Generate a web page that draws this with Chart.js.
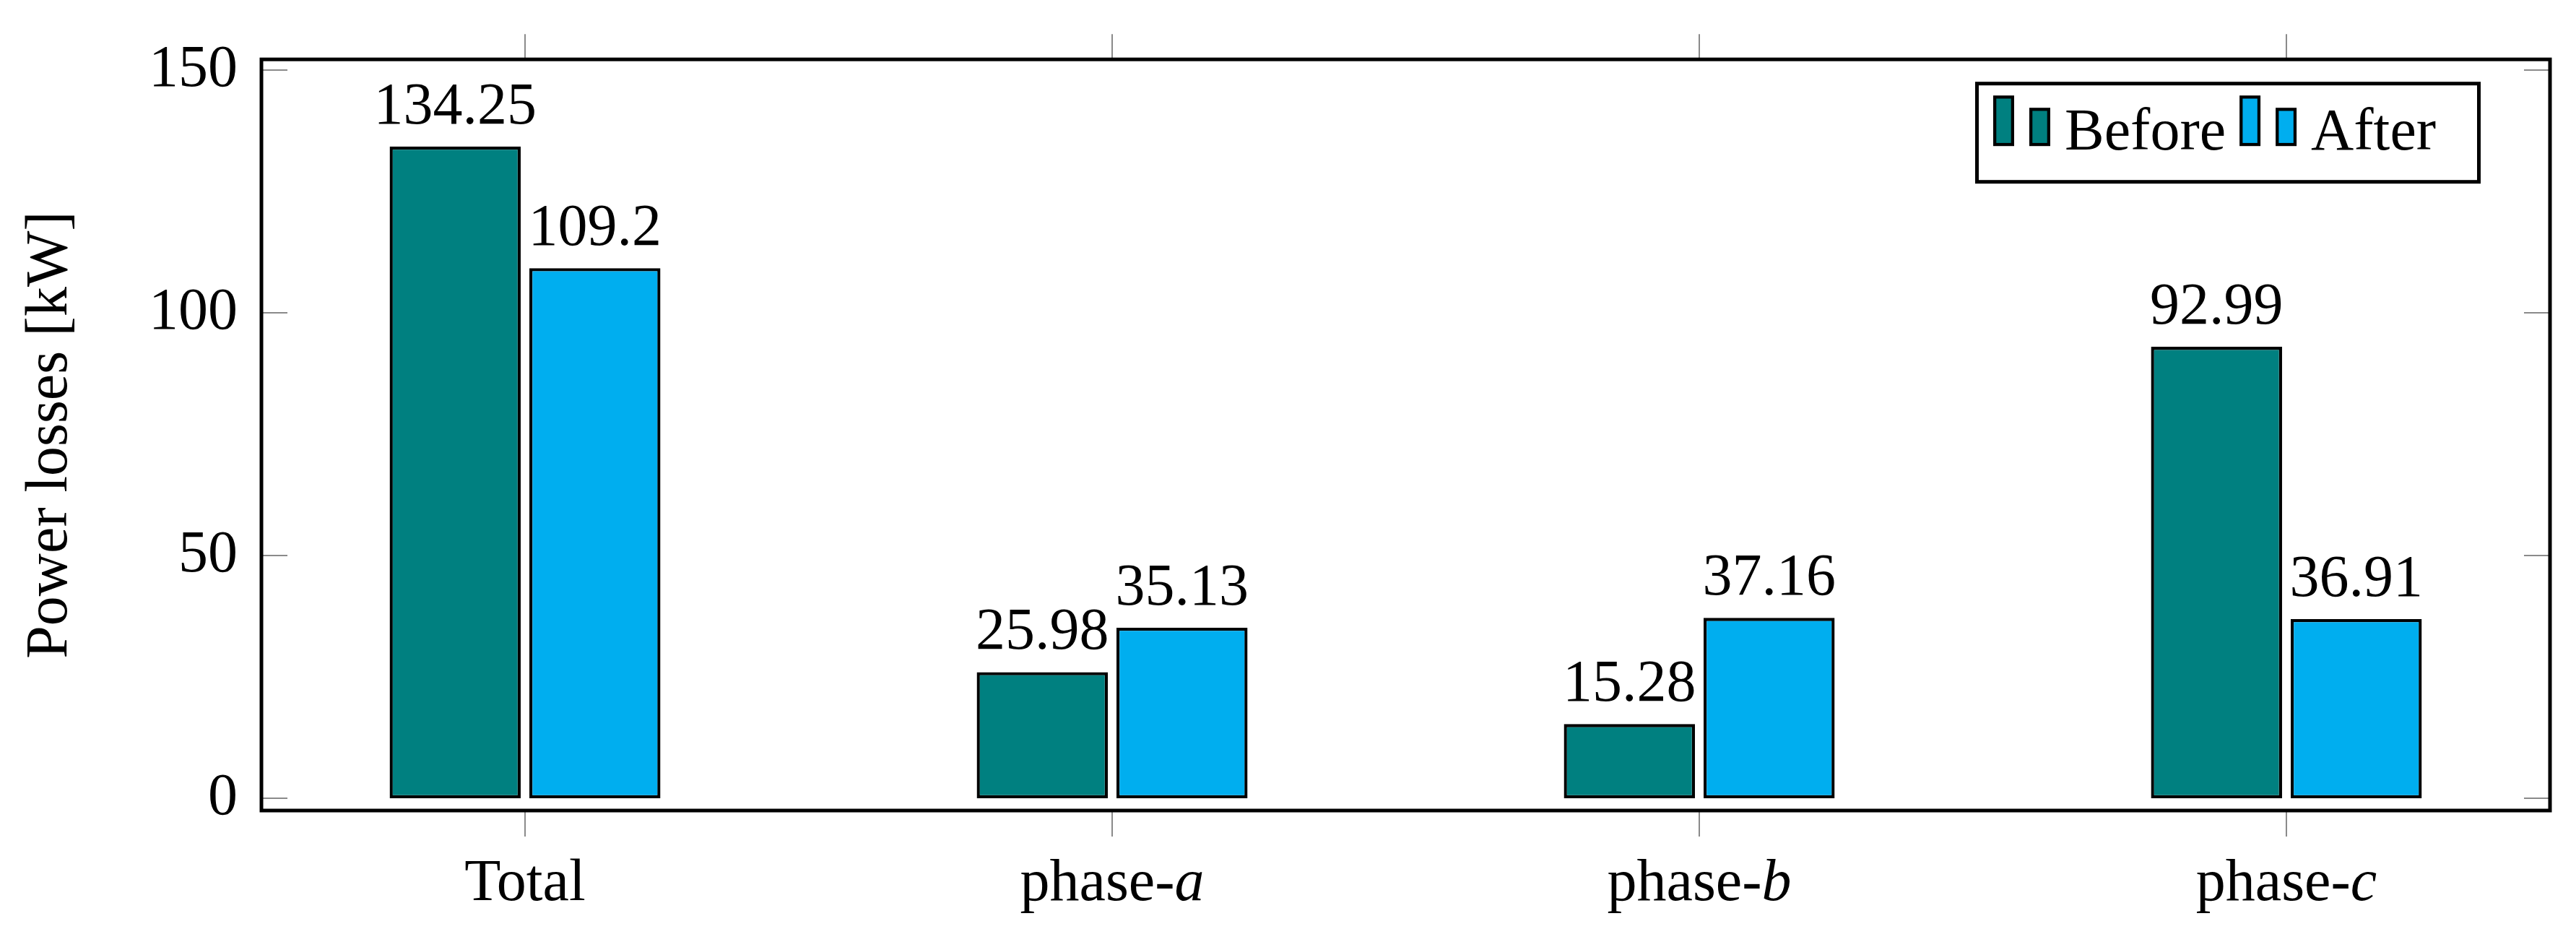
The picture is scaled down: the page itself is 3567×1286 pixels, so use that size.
<!DOCTYPE html>
<html>
<head>
<meta charset="utf-8">
<script src="https://cdn.jsdelivr.net/npm/chart.js@4.4.1/dist/chart.umd.min.js"></script>
<style>
  html, body { margin: 0; padding: 0; background: #fff; }
  #wrap { width: 3567px; height: 1286px; }
</style>
</head>
<body>
<div id="wrap"><canvas id="chart"></canvas></div>
<script>
const categories = ['Total', 'phase-a', 'phase-b', 'phase-c'];
const lossesBefore = [134.25, 25.98, 15.28, 92.99];
const lossesAfter = [109.2, 35.13, 37.16, 36.91];
const yTicks = [0, 50, 100, 150];
const seriesNames = ['Before', 'After'];
const seriesColors = ['#008080', '#00AEEF'];

const FONT = "'Liberation Serif', 'Times New Roman', serif";
const FS = 82;
const tickGrey = '#8a8a8a';

// pgfplots-like frame and tick marks
const framePlugin = {
    id: 'frame',
    afterDraw(chart) {
        const { ctx, chartArea: a, scales } = chart;
        ctx.save();
        ctx.strokeStyle = tickGrey;
        ctx.lineWidth = 2;
        ctx.beginPath();
        scales.x.ticks.forEach(t => {
            const px = scales.x.getPixelForValue(t.value);
            ctx.moveTo(px, a.top); ctx.lineTo(px, a.top - 35);
            ctx.moveTo(px, a.bottom); ctx.lineTo(px, a.bottom + 36);
        });
        scales.y.ticks.forEach(t => {
            const py = scales.y.getPixelForValue(t.value);
            ctx.moveTo(a.left, py); ctx.lineTo(a.left + 36, py);
            ctx.moveTo(a.right, py); ctx.lineTo(a.right - 36, py);
        });
        ctx.stroke();
        ctx.strokeStyle = '#000';
        ctx.lineWidth = 5;
        ctx.strokeRect(a.left, a.top, a.right - a.left, a.bottom - a.top);
        ctx.restore();
    }
};

// value above each bar
const valueLabels = {
    id: 'valueLabels',
    afterDatasetsDraw(chart) {
        const ctx = chart.ctx;
        ctx.save();
        ctx.font = `${FS}px ${FONT}`;
        ctx.fillStyle = '#000';
        ctx.textAlign = 'center';
        ctx.textBaseline = 'alphabetic';
        chart.data.datasets.forEach((ds, i) => {
            chart.getDatasetMeta(i).data.forEach((bar, j) => {
                ctx.fillText(String(ds.data[j].y), bar.x, bar.y - 32);
            });
        });
        ctx.restore();
    }
};

// category names, last letter in italic (phase-a ...)
const categoryLabels = {
    id: 'categoryLabels',
    afterDraw(chart) {
        const { ctx, scales: { x }, chartArea: a } = chart;
        const up = `${FS}px ${FONT}`;
        const it = `italic ${FS}px ${FONT}`;
        ctx.save();
        ctx.fillStyle = '#000';
        ctx.textBaseline = 'alphabetic';
        ctx.textAlign = 'left';
        categories.forEach((lab, i) => {
            const m = lab.match(/^(.*-)(\w)$/);
            const parts = m ? [[m[1], up], [m[2], it]] : [[lab, up]];
            let w = 0;
            parts.forEach(p => { ctx.font = p[1]; w += ctx.measureText(p[0]).width; });
            let px = x.getPixelForValue(i) - w / 2;
            parts.forEach(p => {
                ctx.font = p[1];
                ctx.fillText(p[0], px, a.bottom + 124);
                px += ctx.measureText(p[0]).width;
            });
        });
        ctx.restore();
    }
};

// ybar legend: two small bars + text per series
const barLegend = {
    id: 'barLegend',
    afterDraw(chart) {
        const { ctx, chartArea: a } = chart;
        ctx.save();
        ctx.font = `${FS}px ${FONT}`;
        const items = chart.data.datasets.map(ds => ({
            text: ds.label, color: ds.backgroundColor, w: ctx.measureText(ds.label).width
        }));
        const boxW = 700;
        const boxH = 141;
        const right = a.right - 96;
        const top = a.top + 31;
        const left = right - boxW;
        ctx.fillStyle = '#fff';
        ctx.fillRect(left, top, boxW, boxH);
        ctx.lineWidth = 5;
        ctx.strokeStyle = '#000';
        ctx.strokeRect(left + 2.5, top + 2.5, boxW - 5, boxH - 5);
        ctx.lineWidth = 4.3;
        const drawBar = (x0, y0, w, h, color) => {
            const i = 2.15;
            ctx.fillStyle = color;
            ctx.fillRect(x0 + i, y0 + i, w - 2 * i, h - 2 * i);
            ctx.strokeRect(x0 + i, y0 + i, w - 2 * i, h - 2 * i);
        };
        let cx = left + 25;
        items.forEach((it, k) => {
            if (k) cx += 19;
            drawBar(cx, top + 19, 29, 70, it.color);
            drawBar(cx + 50, top + 36, 29, 53, it.color);
            cx += 79 + 20;
            ctx.fillStyle = '#000';
            ctx.textBaseline = 'alphabetic';
            ctx.textAlign = 'left';
            ctx.fillText(it.text, cx, top + 94);
            cx += it.w;
        });
        ctx.restore();
    }
};

const seriesValues = [lossesBefore, lossesAfter];

new Chart(document.getElementById('chart'), {
    type: 'bar',
    data: {
        datasets: seriesValues.map((vals, k) => ({
            label: seriesNames[k],
            data: vals.map((v, i) => ({ x: i, y: v })),
            backgroundColor: seriesColors[k],
            borderColor: '#000',
            borderWidth: 4.3,
            borderSkipped: false,
            categoryPercentage: 0.476,
            barPercentage: 0.938
        }))
    },
    options: {
        responsive: true,
        maintainAspectRatio: false,
        animation: false,
        layout: { padding: { left: 0, top: 78, right: 36, bottom: 0 } },
        plugins: {
            legend: { display: false },
            tooltip: { enabled: false }
        },
        scales: {
            x: {
                type: 'linear',
                min: -0.449,
                max: 3.449,
                offset: false,
                afterBuildTicks: s => { s.ticks = categories.map((c, i) => ({ value: i })); },
                afterFit: s => { s.height = 164; },
                ticks: { display: false },
                grid: { display: false, drawTicks: false },
                border: { display: false }
            },
            y: {
                min: -2.52,
                max: 152.2,
                afterBuildTicks: s => { s.ticks = yTicks.map(v => ({ value: v })); },
                afterFit: s => { s.width = 362; },
                ticks: { font: { family: FONT, size: FS }, color: '#000', padding: 33 },
                grid: { display: false, drawTicks: false },
                border: { display: false },
                title: {
                    display: true,
                    text: 'Power losses [kW]',
                    color: '#000',
                    font: { family: FONT, size: FS },
                    padding: { top: 21, bottom: 0 }
                }
            }
        }
    },
    plugins: [valueLabels, framePlugin, categoryLabels, barLegend]
});
</script>
</body>
</html>
